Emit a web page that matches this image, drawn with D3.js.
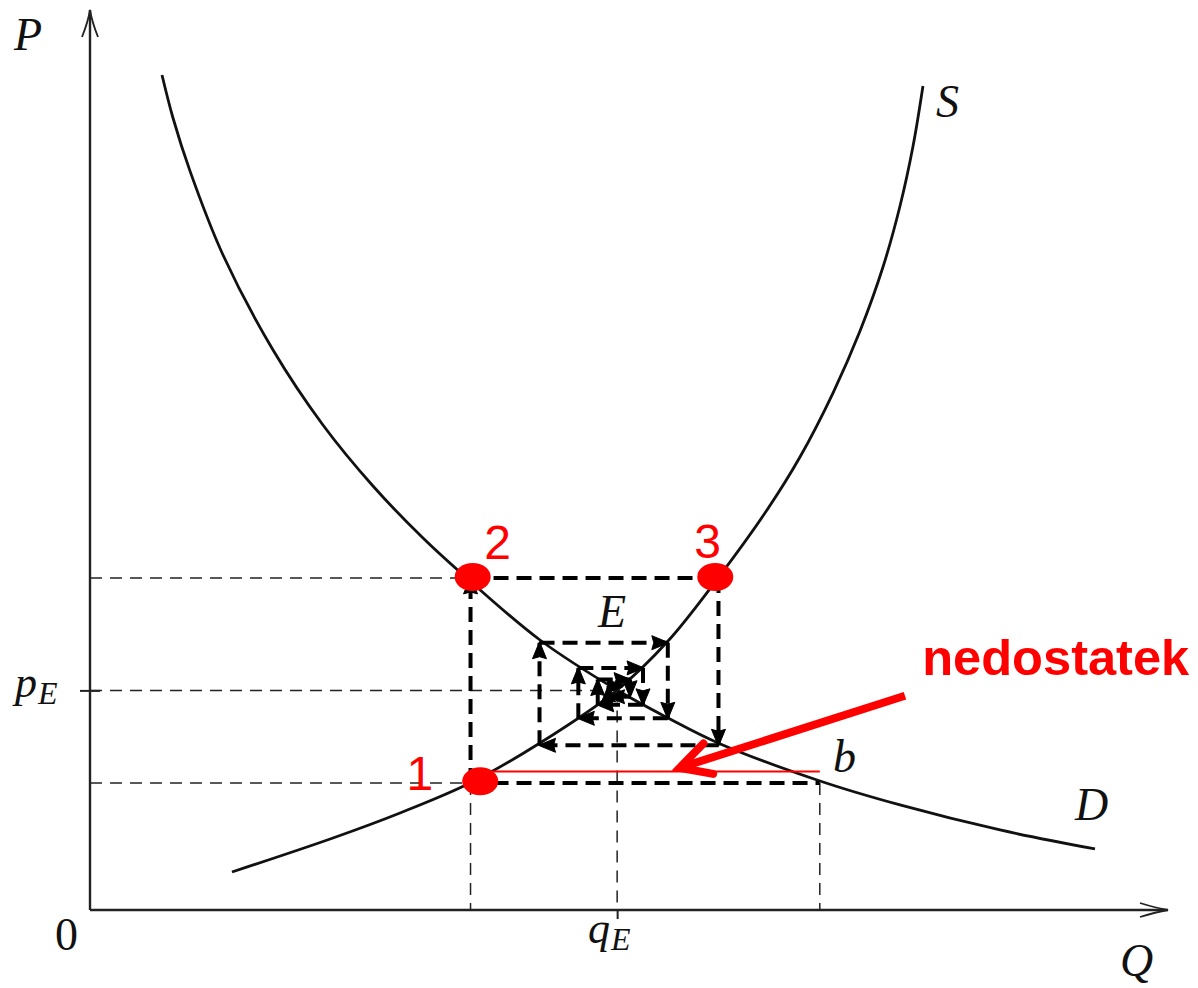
<!DOCTYPE html>
<html>
<head>
<meta charset="utf-8">
<script src="https://cdn.jsdelivr.net/npm/d3@7"></script>
<style>
  html, body { margin: 0; padding: 0; background: #fff; }
  svg { display: block; }
</style>
</head>
<body>
<svg id="chart" width="1198" height="988"></svg>
<script>
// ---------------- data (model units: Q on x, P on y) ----------------
const demandQ = [0.668, 0.770, 0.928, 1.234, 1.698, 2.161, 2.625, 3.089, 3.525, 4.174, 4.889, 5.362, 5.826, 6.772, 7.514, 8.442, 9.323];
const demandP = [9.278, 8.800, 8.210, 7.278, 6.222, 5.389, 4.711, 4.133, 3.656, 3.000, 2.444, 2.133, 1.856, 1.433, 1.167, 0.889, 0.678];

const supplyQ = [1.317, 2.254, 2.876, 3.525, 4.174, 4.889, 5.362, 5.826, 6.280, 6.586, 6.892, 7.143, 7.356, 7.514, 7.635, 7.727];
const supplyP = [0.422, 0.800, 1.078, 1.411, 1.856, 2.444, 2.989, 3.689, 4.444, 5.033, 5.744, 6.433, 7.144, 7.822, 8.489, 9.156];

// cobweb pivot quantities and prices
const cobwebQ = [3.53, 5.83, 4.17, 5.36, 4.53, 5.13, 4.71, 5.01, 4.81, 4.94];
const cobwebP = [1.41, 3.69, 1.83, 2.97, 2.13, 2.69, 2.28, 2.56, 2.37, 2.49];

const equilibriumQ = 4.89;
const equilibriumP = 2.44;
const shortageEndQ = 6.77;       // point b on demand
const shortageLineP = 1.54;      // red marker line level

// red points 1,2,3
const pointLabels = ["1", "2", "3"];
const pointQ = [3.62, 3.55, 5.80];
const pointP = [1.43, 3.70, 3.70];
const pointLabelQ = [3.06, 3.78, 5.73];
const pointLabelP = [1.33, 3.90, 3.91];

// red annotation arrow
const annotText = "nedostatek";
const annotArrowQ = [7.56, 5.47];
const annotArrowP = [2.38, 1.58];
const annotTextQ = 7.72;
const annotTextP = 2.61;

// math labels
const mathLabels = ["P", "0", "Q", "S", "D", "E", "b"];
const mathLabelQ = [-0.705, -0.325, 9.555, 7.848, 9.137, 4.712, 6.892];
const mathLabelP = [9.56, -0.444, -0.733, 8.811, 1.00, 3.144, 1.533];
const italicFlags = [true, false, true, true, true, true, true];

// ---------------- scales ----------------
const svg = d3.select("#chart");
const x = d3.scaleLinear().domain([0, 10]).range([90, 1168]);
const y = d3.scaleLinear().domain([0, 10]).range([910, 10]);

const serif = "'Liberation Serif', 'Times New Roman', serif";
const sans = "'Liberation Sans', Arial, sans-serif";

// markers
const defs = svg.append("defs");
defs.append("marker")
  .attr("id", "blackArrow")
  .attr("markerUnits", "userSpaceOnUse")
  .attr("viewBox", "-18 -9 20 18")
  .attr("markerWidth", 20).attr("markerHeight", 18)
  .attr("refX", 0).attr("refY", 0)
  .attr("orient", "auto")
  .append("path")
  .attr("d", "M1,0 L-16,-7 L-14,0 L-16,7 Z")
  .attr("fill", "#000").attr("stroke", "#000").attr("stroke-width", 1);

// ---------------- thin dashed guides ----------------
const guides = [
  [[0, cobwebP[1]], [cobwebQ[0], cobwebP[1]]],
  [[0, equilibriumP], [equilibriumQ, equilibriumP]],
  [[0, cobwebP[0]], [cobwebQ[0], cobwebP[0]]],
  [[cobwebQ[0], cobwebP[0]], [cobwebQ[0], 0]],
  [[equilibriumQ, equilibriumP], [equilibriumQ, 0]],
  [[shortageEndQ, cobwebP[0]], [shortageEndQ, 0]]
];
svg.append("g").selectAll("line").data(guides).join("line")
  .attr("x1", d => x(d[0][0])).attr("y1", d => y(d[0][1]))
  .attr("x2", d => x(d[1][0])).attr("y2", d => y(d[1][1]))
  .attr("stroke", "#222").attr("stroke-width", 1.5)
  .attr("stroke-dasharray", "12,8");

// ---------------- axes ----------------
const axisG = svg.append("g");
axisG.append("line")
  .attr("x1", x(0)).attr("y1", y(0)).attr("x2", x(0)).attr("y2", y(10))
  .attr("stroke", "#222").attr("stroke-width", 2.4);
axisG.append("line")
  .attr("x1", x(0)).attr("y1", y(0)).attr("x2", x(10)).attr("y2", y(0))
  .attr("stroke", "#222").attr("stroke-width", 2.4);
// LaTeX-style arrow tips
const ty = y(10), tx = x(0);
axisG.append("path")
  .attr("d", `M${tx-8},${ty+27} Q${tx-2},${ty+12} ${tx},${ty} Q${tx+2},${ty+12} ${tx+8},${ty+27}`)
  .attr("fill", "none").attr("stroke", "#222").attr("stroke-width", 1.8);
const rx = x(10), ry = y(0);
axisG.append("path")
  .attr("d", `M${rx-28},${ry-7} Q${rx-12},${ry-2} ${rx},${ry} Q${rx-12},${ry+2} ${rx-28},${ry+7}`)
  .attr("fill", "none").attr("stroke", "#222").attr("stroke-width", 1.8);

// tick marks at equilibrium via d3 axes
const xTick = svg.append("g").attr("transform", `translate(0,${y(0)})`)
  .call(d3.axisBottom(x).tickValues([equilibriumQ]).tickSize(9).tickSizeOuter(0).tickFormat(""));
xTick.select(".domain").remove();
xTick.selectAll("line").attr("stroke", "#222").attr("stroke-width", 2);
const yTick = svg.append("g").attr("transform", `translate(${x(0)},0)`)
  .call(d3.axisLeft(y).tickValues([equilibriumP]).tickSize(10).tickSizeOuter(0).tickFormat(""));
yTick.select(".domain").remove();
yTick.selectAll("line").attr("x1", 10).attr("stroke", "#222").attr("stroke-width", 2);

// ---------------- curves ----------------
const line = d3.line().x(d => x(d[0])).y(d => y(d[1])).curve(d3.curveCatmullRom.alpha(0.5));
svg.append("path")
  .attr("d", line(demandQ.map((q, i) => [q, demandP[i]])))
  .attr("fill", "none").attr("stroke", "#111").attr("stroke-width", 2.8);
svg.append("path")
  .attr("d", line(supplyQ.map((q, i) => [q, supplyP[i]])))
  .attr("fill", "none").attr("stroke", "#111").attr("stroke-width", 2.8);

// ---------------- cobweb (thick dashed, arrowed) ----------------
const verts = [];
for (let i = 0; i < cobwebQ.length; i++) {
  verts.push([cobwebQ[i], cobwebP[i]]);
  if (i + 1 < cobwebP.length) verts.push([cobwebQ[i], cobwebP[i + 1]]);
}
const segs = [];
for (let i = 0; i < verts.length - 1; i++) segs.push([verts[i], verts[i + 1]]);

// shortage line from point 1 to b
svg.append("line")
  .attr("x1", x(cobwebQ[0])).attr("y1", y(cobwebP[0]))
  .attr("x2", x(shortageEndQ)).attr("y2", y(cobwebP[0]))
  .attr("stroke", "#000").attr("stroke-width", 4)
  .attr("stroke-dasharray", "15,8");

svg.append("g").selectAll("line").data(segs).join("line")
  .attr("x1", d => x(d[0][0])).attr("y1", d => y(d[0][1]))
  .attr("x2", d => x(d[1][0])).attr("y2", d => y(d[1][1]))
  .attr("stroke", "#000").attr("stroke-width", 4)
  .attr("stroke-dasharray", "15,8")
  .attr("marker-end", "url(#blackArrow)");

// ---------------- red annotations ----------------
svg.append("line")
  .attr("x1", x(pointQ[0])).attr("y1", y(shortageLineP))
  .attr("x2", x(shortageEndQ)).attr("y2", y(shortageLineP))
  .attr("stroke", "#ff0000").attr("stroke-width", 2);

svg.append("g").selectAll("ellipse").data(pointQ).join("ellipse")
  .attr("cx", (d, i) => x(d)).attr("cy", (d, i) => y(pointP[i]))
  .attr("rx", 18).attr("ry", 14)
  .attr("fill", "#ff0000");

svg.append("g").selectAll("text").data(pointLabels).join("text")
  .attr("x", (d, i) => x(pointLabelQ[i])).attr("y", (d, i) => y(pointLabelP[i]))
  .attr("text-anchor", "middle")
  .attr("font-family", sans).attr("font-size", 48)
  .attr("fill", "#ff0000")
  .text(d => d);

// big red arrow
const ax0 = x(annotArrowQ[0]), ay0 = y(annotArrowP[0]);
const ax1 = x(annotArrowQ[1]), ay1 = y(annotArrowP[1]);
const ang = Math.atan2(ay0 - ay1, ax0 - ax1);
const bl = 34, spread = 28 * Math.PI / 180;
const b1 = [ax1 + bl * Math.cos(ang - spread), ay1 + bl * Math.sin(ang - spread)];
const b2 = [ax1 + bl * Math.cos(ang + spread), ay1 + bl * Math.sin(ang + spread)];
svg.append("line")
  .attr("x1", ax0).attr("y1", ay0).attr("x2", ax1 + 3 * Math.cos(ang)).attr("y2", ay1 + 3 * Math.sin(ang))
  .attr("stroke", "#ff0000").attr("stroke-width", 8);
svg.append("path")
  .attr("d", `M${b1[0]},${b1[1]} L${ax1},${ay1} L${b2[0]},${b2[1]}`)
  .attr("fill", "none").attr("stroke", "#ff0000").attr("stroke-width", 8)
  .attr("stroke-linejoin", "miter").attr("stroke-linecap", "round");

svg.append("text")
  .attr("x", x(annotTextQ)).attr("y", y(annotTextP))
  .attr("font-family", sans).attr("font-weight", "bold").attr("font-size", 50)
  .attr("fill", "#ff0000")
  .attr("textLength", 267).attr("lengthAdjust", "spacingAndGlyphs")
  .text(annotText);

// ---------------- math labels ----------------
svg.append("g").selectAll("text").data(mathLabels).join("text")
  .attr("x", (d, i) => x(mathLabelQ[i])).attr("y", (d, i) => y(mathLabelP[i]))
  .attr("font-family", serif).attr("font-size", 46)
  .attr("font-style", (d, i) => italicFlags[i] ? "italic" : "normal")
  .attr("fill", "#111")
  .text(d => d);

// subscripted labels
function subLabel(q, p, main, sub) {
  const t = svg.append("text")
    .attr("x", x(q)).attr("y", y(p))
    .attr("font-family", serif).attr("font-style", "italic").attr("fill", "#111");
  t.append("tspan").attr("font-size", 44).text(main);
  t.append("tspan").attr("font-size", 32).attr("dy", 7).attr("dx", 1).text(sub);
}
subLabel(4.62, -0.367, "q", "E");
subLabel(-0.696, 2.367, "p", "E");
</script>
</body>
</html>
